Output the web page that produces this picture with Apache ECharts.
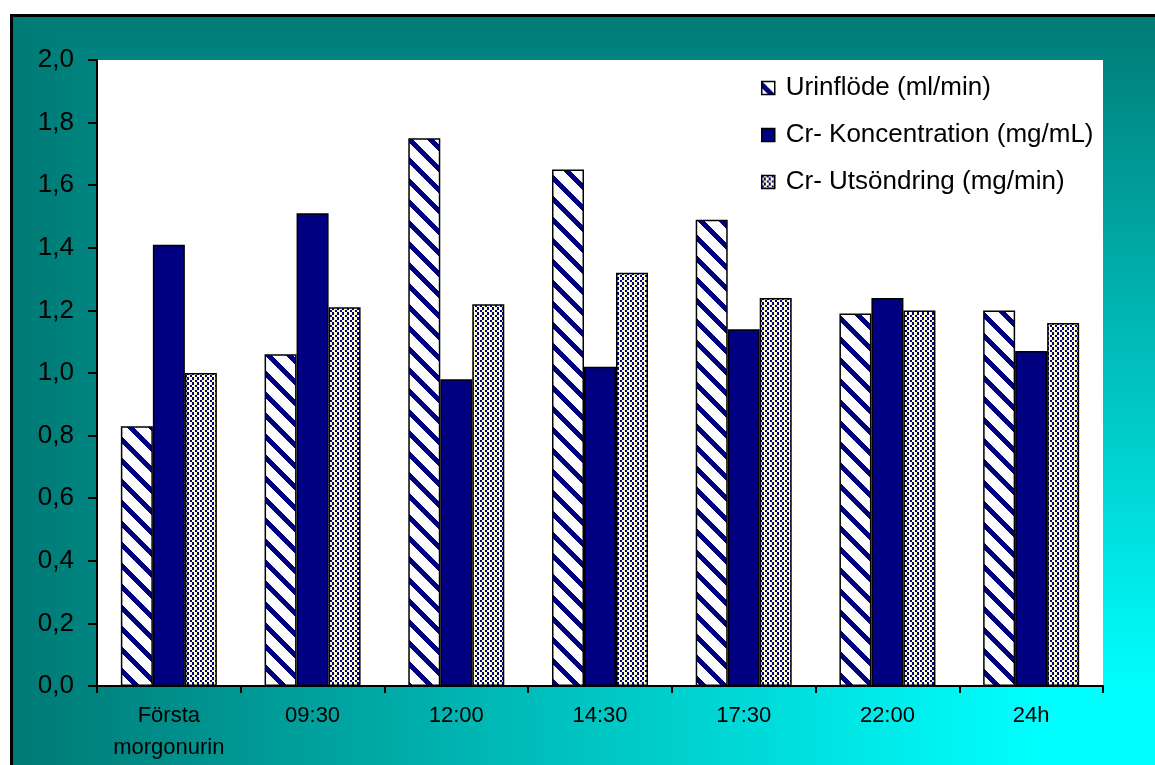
<!DOCTYPE html>
<html>
<head>
<meta charset="utf-8">
<script src="https://cdn.jsdelivr.net/npm/echarts@6/dist/echarts.min.js"></script>
<style>
html,body{margin:0;padding:0;background:#fff;}
#chart{width:1155px;height:765px;}
</style>
</head>
<body>
<div id="chart"></div>
<script>
const categories = ['Första\nmorgonurin', '09:30', '12:00', '14:30', '17:30', '22:00', '24h'];
const seriesNames = ['Urinflöde (ml/min)', 'Cr- Koncentration (mg/mL)', 'Cr- Utsöndring (mg/min)'];
const urinflode = [0.83, 1.06, 1.75, 1.65, 1.49, 1.19, 1.20];
const koncentration = [1.41, 1.51, 0.98, 1.02, 1.14, 1.24, 1.07];
const utsondring = [1.00, 1.21, 1.22, 1.32, 1.24, 1.20, 1.16];
const yTicks = { min: 0, max: 2, interval: 0.2 };

const W = 1155, H = 765;

function makeStripes() {
  const P = 21, T = 7;
  const c = document.createElement('canvas');
  c.width = P; c.height = P;
  const ctx = c.getContext('2d');
  ctx.fillStyle = '#ffffff';
  ctx.fillRect(0, 0, P, P);
  ctx.fillStyle = '#000080';
  for (let x = 0; x < P; x++) for (let y = 0; y < P; y++) {
    if ((((y - x) % P) + P) % P < T) ctx.fillRect(x, y, 1, 1);
  }
  return c;
}
function makeChecker() {
  // checkerboard of 2-3 px cells, navy blocks inside the dark cells
  const bounds = [0, 2, 5, 7, 10, 12, 15];
  const P = 15;
  const cellOf = p => { for (let k = 0; k < bounds.length - 1; k++) if (p >= bounds[k] && p < bounds[k + 1]) return k; return 0; };
  const c = document.createElement('canvas');
  c.width = P; c.height = P;
  const ctx = c.getContext('2d');
  ctx.fillStyle = '#ffffcc';
  ctx.fillRect(0, 0, P, P);
  ctx.fillStyle = '#000080';
  for (let x = 0; x < P; x++) for (let y = 0; y < P; y++) {
    const cx = cellOf(x), cy = cellOf(y);
    if ((cx + cy) % 2 === 0 && x - bounds[cx] < 2) ctx.fillRect(x, y, 1, 1);
  }
  return c;
}
// Excel-like "from corner" gradient backdrop (teal -> cyan toward bottom-right)
function makeBackdrop() {
  const c = document.createElement('canvas');
  c.width = W; c.height = H;
  const ctx = c.getContext('2d');
  const img = ctx.createImageData(W, H);
  const d = img.data;
  for (let y = 0; y < H; y++) {
    for (let x = 0; x < W; x++) {
      const i = (y * W + x) * 4;
      let r = 255, g = 255, b = 255;
      if (x >= 10 && y >= 14) {
        if (x <= 12 || y <= 16) { r = 0; g = 0; b = 0; }
        else {
          const t = Math.max((W - x) / W, (H - y) / H);
          let v = 255 - 150 * (t - 0.1);
          if (v > 255) v = 255;
          r = 0; g = Math.round(v); b = Math.round(v - 5 * t);
        }
      }
      d[i] = r; d[i + 1] = g; d[i + 2] = b; d[i + 3] = 255;
    }
  }
  ctx.putImageData(img, 0, 0);
  return c;
}

const stripes = { image: makeStripes(), repeat: 'repeat' };
const checker = { image: makeChecker(), repeat: 'repeat' };

const chart = echarts.init(document.getElementById('chart'), null, { renderer: 'canvas' });
const font = 'Liberation Sans, Arial, sans-serif';

const option = {
  backgroundColor: '#ffffff',
  animation: false,
  textStyle: { fontFamily: font },
  graphic: [{
    type: 'image',
    z: -100,
    silent: true,
    style: { image: makeBackdrop(), x: 0, y: 0, width: W, height: H }
  }],
  grid: {
    left: 97, top: 60, right: 52, bottom: 79,
    show: true, backgroundColor: '#ffffff', borderWidth: 0,
    containLabel: false
  },
  legend: {
    orient: 'vertical',
    left: 756, top: 70,
    itemWidth: 13, itemHeight: 13,
    itemGap: 21,
    icon: 'rect',
    data: seriesNames,
    textStyle: { fontSize: 26, lineHeight: 26, color: '#000', fontFamily: font, padding: [0, 0, 0, 6] },
    itemStyle: { borderColor: '#000', borderWidth: 1.5 }
  },
  xAxis: {
    type: 'category',
    data: categories,
    axisLine: { lineStyle: { color: '#000', width: 2 } },
    axisTick: { show: true, length: 7, lineStyle: { color: '#000', width: 2 }, alignWithLabel: false },
    axisLabel: { fontSize: 22, lineHeight: 32, color: '#000', margin: 14, fontFamily: font, interval: 0 },
    splitLine: { show: false }
  },
  yAxis: {
    type: 'value',
    min: yTicks.min, max: yTicks.max, interval: yTicks.interval,
    axisLine: { show: true, lineStyle: { color: '#000', width: 2 } },
    axisTick: { show: true, length: 9, lineStyle: { color: '#000', width: 2 } },
    axisLabel: {
      fontSize: 26, color: '#000', margin: 23, fontFamily: font,
      formatter: v => v.toFixed(1).replace('.', ',')
    },
    splitLine: { show: false }
  },
  series: [
    {
      name: seriesNames[0], type: 'bar', data: urinflode,
      barWidth: 32, barGap: '0%',
      itemStyle: { color: stripes, borderColor: '#000', borderWidth: 1.5 }
    },
    {
      name: seriesNames[1], type: 'bar', data: koncentration,
      barWidth: 32, barGap: '0%',
      itemStyle: { color: '#000080', borderColor: '#000', borderWidth: 1.5 }
    },
    {
      name: seriesNames[2], type: 'bar', data: utsondring,
      barWidth: 32, barGap: '0%',
      itemStyle: { color: checker, borderColor: '#000', borderWidth: 1.5 }
    }
  ]
};
chart.setOption(option);
</script>
</body>
</html>
